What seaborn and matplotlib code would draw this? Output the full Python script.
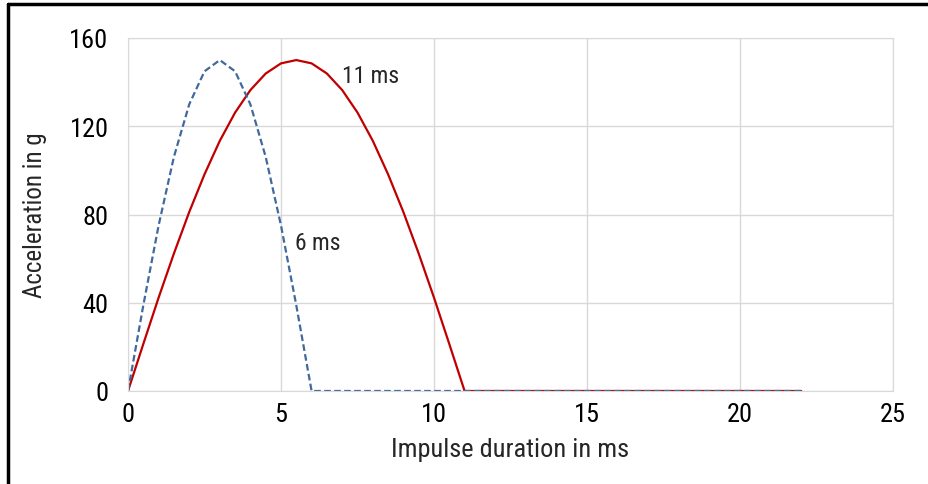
import matplotlib
matplotlib.use("Agg")
import matplotlib.pyplot as plt
import seaborn as sns
import pandas as pd

# time axis, 0.5 ms steps up to 22 ms
t_ms = [0, 0.5, 1, 1.5, 2, 2.5, 3, 3.5, 4, 4.5, 5, 5.5, 6, 6.5, 7, 7.5, 8, 8.5, 9, 9.5, 10, 10.5,
        11, 11.5, 12, 12.5, 13, 13.5, 14, 14.5, 15, 15.5, 16, 16.5, 17, 17.5, 18, 18.5, 19, 19.5,
        20, 20.5, 21, 21.5, 22]

acc_11ms = [0, 21.3, 42.3, 62.3, 81.1, 98.2, 113.4, 126.2, 136.4, 143.9, 148.5, 150, 148.5, 143.9,
            136.4, 126.2, 113.4, 98.2, 81.1, 62.3, 42.3, 21.3, 0] + [0] * 22

acc_6ms = [0, 38.8, 75, 106.1, 129.9, 144.9, 150, 144.9, 129.9, 106.1, 75, 38.8, 0] + [0] * 32

df = pd.DataFrame({"t": t_ms + t_ms,
                   "acc": acc_11ms + acc_6ms,
                   "pulse": ["11 ms"] * len(t_ms) + ["6 ms"] * len(t_ms)})

sns.set_style("white")
plt.rcParams["font.family"] = ["Roboto Condensed", "DejaVu Sans"]

fig = plt.figure(figsize=(9.29, 4.85), dpi=100)
ax = fig.add_axes([128 / 929, 1 - 392 / 485, (893 - 128) / 929, (392 - 39) / 485])

sns.lineplot(data=df[df.pulse == "11 ms"], x="t", y="acc", color="#c00000", lw=1.6, ax=ax)
sns.lineplot(data=df[df.pulse == "6 ms"], x="t", y="acc", color="#41699c", lw=1.6,
             linestyle=(0, (3, 1.5)), ax=ax)

ax.set_xlim(0, 25)
ax.set_ylim(0, 160)
ax.set_xticks([0, 5, 10, 15, 20, 25])
ax.set_yticks([0, 40, 80, 120, 160])
ax.grid(True, color="#d9d9d9", lw=1)
for s in ax.spines.values():
    s.set_color("#d9d9d9")
ax.tick_params(labelsize=19, length=0, colors="black")
ax.tick_params(axis="y", pad=14)
ax.tick_params(axis="x", pad=8)
ax.set_xlabel("Impulse duration in ms", fontsize=19, labelpad=8)
ax.set_ylabel("Acceleration in g", fontsize=18, labelpad=16)

ax.text(7.0, 143, "11 ms", fontsize=17, va="center")
ax.text(5.45, 67.5, "6 ms", fontsize=17, va="center")

# frame around the figure
fig.add_artist(plt.Line2D([8 / 929, 8 / 929], [0, 1 - 5 / 485], color="black", lw=2.5))
fig.add_artist(plt.Line2D([8 / 929, 1], [1 - 5 / 485, 1 - 5 / 485], color="black", lw=2.5))

fig.savefig("out.png", dpi=100)
